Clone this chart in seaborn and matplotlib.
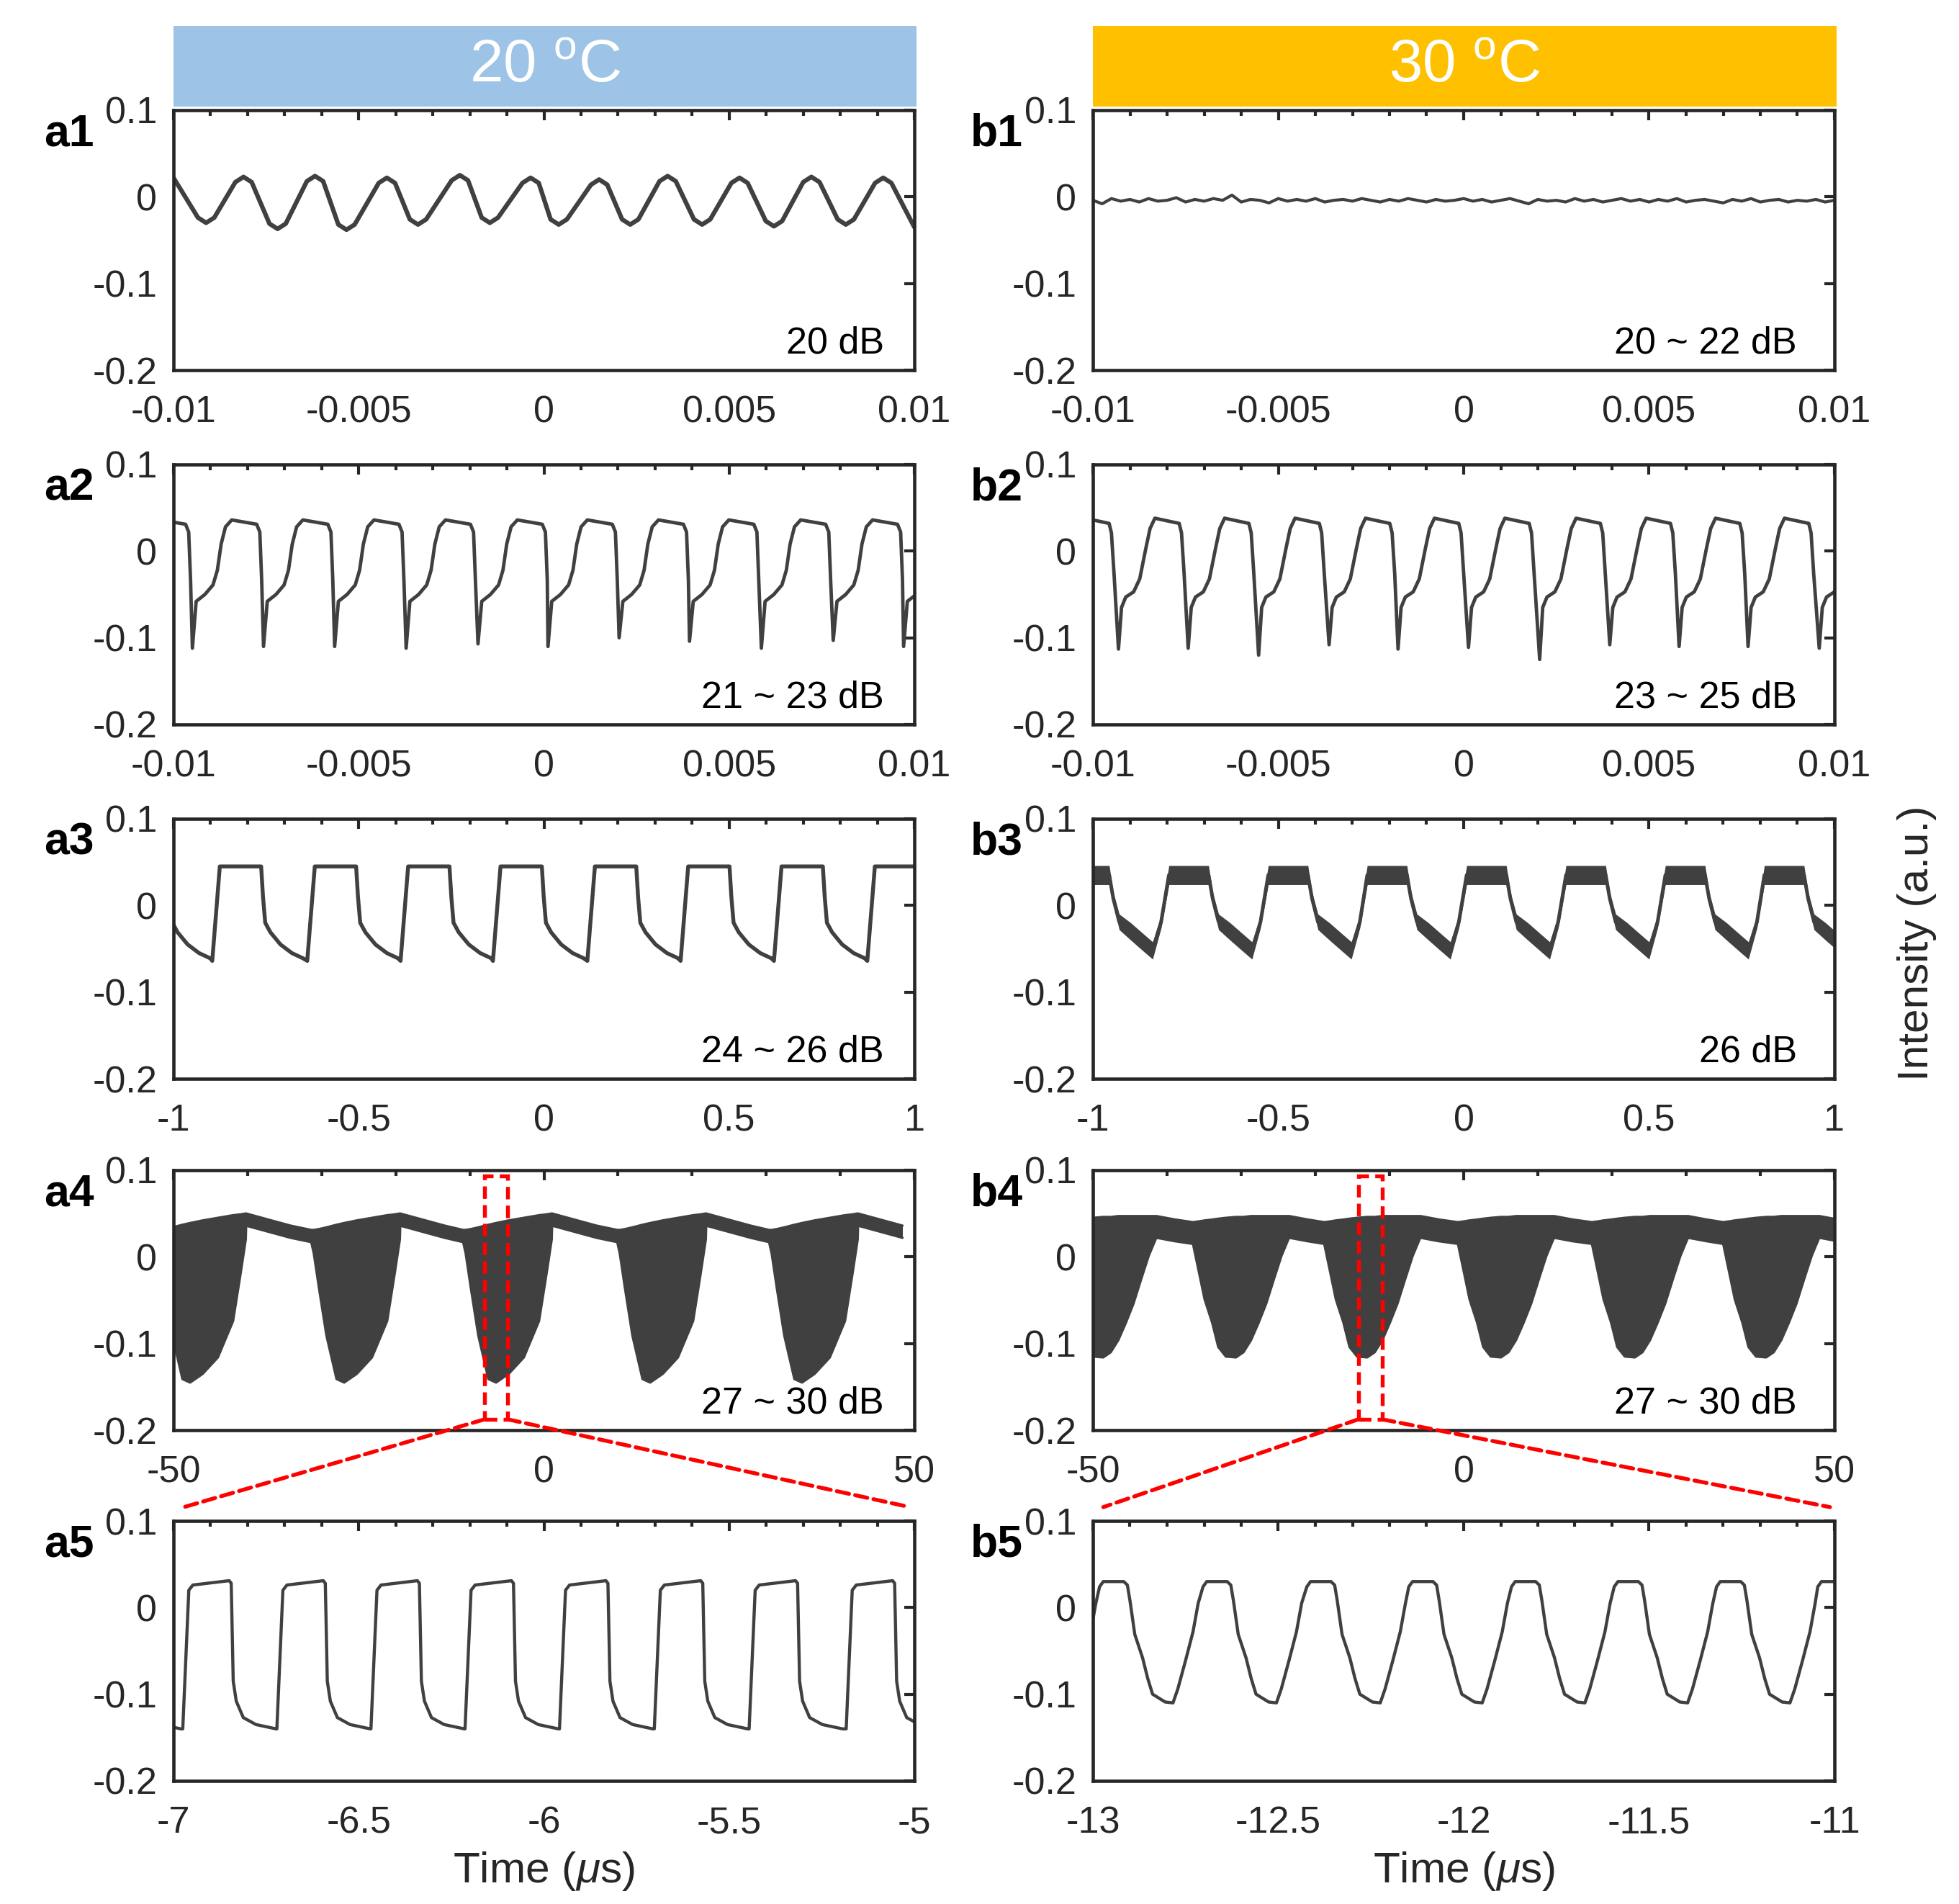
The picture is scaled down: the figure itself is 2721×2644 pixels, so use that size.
import numpy as np
import pandas as pd
import matplotlib
matplotlib.use("Agg")
import matplotlib.pyplot as plt
import seaborn as sns
from matplotlib.patches import Rectangle, ConnectionPatch
from matplotlib.ticker import MultipleLocator

# ------------------------------------------------------------------ data
# a1 (20 C, 20 dB): peaks / troughs, plus rounded shoulders
a1_peak_t = [-0.00811, -0.00618, -0.00424, -0.00227, -0.00036, 0.00149, 0.00334, 0.00528, 0.00722, 0.00916]
a1_peak_v = [0.023, 0.024, 0.022, 0.025, 0.022, 0.020, 0.024, 0.022, 0.023, 0.022]
a1_trough_t = [-0.00912, -0.00719, -0.00533, -0.00340, -0.00146, 0.00040, 0.00233, 0.00427, 0.00621, 0.00815]
a1_trough_v = [-0.030, -0.037, -0.038, -0.032, -0.030, -0.032, -0.032, -0.032, -0.034, -0.032]
a1_round_dt = [-0.00022, 0.0, 0.00022]
a1_round_dv = [-0.006, 0.0, -0.006]
a1_ends_t = [-0.0100, 0.0100]
a1_ends_v = [0.022, -0.035]

# b1 (30 C, 20~22 dB): nearly flat noisy trace
b1_t = list(np.round(np.arange(-0.0100, 0.01001, 0.00025), 5))
b1_v = [-0.004, -0.008, -0.002, -0.005, -0.003, -0.006, -0.002, -0.005, -0.004, -0.001,
        -0.006, -0.003, -0.005, -0.002, -0.004, 0.002, -0.006, -0.003, -0.004, -0.007,
        -0.002, -0.005, -0.003, -0.005, -0.002, -0.006, -0.004, -0.003, -0.005, -0.002,
        -0.004, -0.006, -0.003, -0.005, -0.002, -0.004, -0.006, -0.003, -0.005, -0.004,
        -0.002, -0.005, -0.003, -0.006, -0.004, -0.002, -0.005, -0.008, -0.003, -0.005,
        -0.004, -0.006, -0.002, -0.005, -0.003, -0.006, -0.004, -0.002, -0.005, -0.003,
        -0.006, -0.003, -0.005, -0.002, -0.006, -0.004, -0.003, -0.005, -0.007, -0.003,
        -0.005, -0.002, -0.006, -0.004, -0.003, -0.006, -0.004, -0.005, -0.003, -0.006, -0.004]

# a2 (21~23 dB): spike times, spike depths and one-cycle shape after a spike
a2_spike_t = [-0.01141, -0.00949, -0.00757, -0.00565, -0.00372, -0.00178, 0.00011, 0.00203, 0.00393, 0.00587, 0.00781, 0.00971]
a2_spike_v = [-0.110, -0.112, -0.110, -0.110, -0.112, -0.107, -0.110, -0.100, -0.104, -0.112, -0.103, -0.110]
a2_shape_dt = [0.000101, 0.000337, 0.000556, 0.000674, 0.000775, 0.000893, 0.001062, 0.001736, 0.001820, 0.001870]
a2_shape_v = [-0.058, -0.050, -0.039, -0.022, 0.008, 0.028, 0.036, 0.031, 0.022, -0.033]

# b2 (23~25 dB)
b2_spike_t = [-0.01120, -0.00931, -0.00743, -0.00553, -0.00363, -0.00177, 0.00013, 0.00205, 0.00394, 0.00581, 0.00767, 0.00959]
b2_spike_v = [-0.112, -0.113, -0.112, -0.120, -0.108, -0.113, -0.111, -0.125, -0.108, -0.110, -0.110, -0.112]
b2_shape_dt = [0.000082, 0.000196, 0.000409, 0.000573, 0.000737, 0.000851, 0.000982, 0.001637, 0.001700, 0.001770]
b2_shape_v = [-0.065, -0.053, -0.047, -0.032, 0.003, 0.026, 0.038, 0.032, 0.021, -0.026]

# a3 (24~26 dB): rising-edge times and one-cycle shape
a3_rise_t = [-1.146, -0.8954, -0.639, -0.387, -0.1376, 0.1172, 0.369, 0.621, 0.873]
a3_shape_dt = [0.0, 0.0204, 0.132, 0.137, 0.143, 0.157, 0.184, 0.215, 0.245]
a3_shape_v = [-0.064, 0.045, 0.045, 0.010, -0.020, -0.031, -0.045, -0.055, -0.061]

# b3 (26 dB): plateau-start times, one-cycle shape and band half-width
b3_start_t = [-1.063, -0.795, -0.527, -0.260, 0.008, 0.276, 0.544, 0.811]
b3_shape_dt = [0.0, 0.107, 0.118, 0.134, 0.165, 0.197, 0.224, 0.247]
b3_shape_v = [0.035, 0.035, 0.008, -0.019, -0.030, -0.042, -0.052, -0.019]
b3_half_w = [0.011, 0.011, 0.007, 0.009, 0.010, 0.010, 0.010, 0.007]

# a4 (27~30 dB): dip-start times and envelope of one dip + band
a4_dip_t = [-52.2, -31.4, -10.9, 9.9, 30.4]
a4_env_dt = [0.0, 0.34, 1.02, 2.05, 3.41, 4.44, 6.14, 8.19, 10.24, 11.26, 11.95, 12.0, 15.0, 18.0]
a4_env_low = [0.017, 0.004, -0.035, -0.091, -0.141, -0.145, -0.135, -0.116, -0.074, -0.019, 0.020, 0.036, 0.029, 0.022]
a4_env_up = [0.031, 0.031, 0.032, 0.034, 0.037, 0.039, 0.042, 0.045, 0.048, 0.049, 0.050, 0.050, 0.043, 0.036]

# b4 (27~30 dB)
b4_dip_t = [-54.4, -36.5, -18.8, -0.77, 17.3, 35.0]
b4_env_dt = [0.0, 0.885, 1.566, 2.59, 3.41, 4.43, 5.79, 6.81, 7.83, 8.85, 9.87, 10.90, 11.92, 12.94, 13.0, 15.5]
b4_env_low = [0.015, -0.021, -0.049, -0.076, -0.104, -0.115, -0.116, -0.110, -0.096, -0.076, -0.054, -0.026, 0.001, 0.022, 0.022, 0.018]
b4_env_up = [0.040, 0.041, 0.042, 0.043, 0.044, 0.045, 0.046, 0.046, 0.047, 0.047, 0.047, 0.047, 0.047, 0.047, 0.047, 0.043]

# a5 (zoom of a4): rising-edge times and one-cycle shape
a5_rise_t = [-7.232, -6.975, -6.721, -6.467, -6.213, -5.958, -5.702, -5.446, -5.184]
a5_shape_dt = [0.0, 0.0163, 0.0272, 0.1253, 0.1308, 0.1362, 0.1444, 0.1634, 0.1975, 0.2520]
a5_shape_v = [-0.140, 0.020, 0.026, 0.031, 0.028, -0.085, -0.108, -0.127, -0.135, -0.140]

# b5 (zoom of b4): plateau-start times and one-cycle shape
b5_start_t = [-13.258, -12.982, -12.703, -12.423, -12.148, -11.871, -11.594, -11.318, -11.045]
b5_shape_dt = [0.0, 0.010, 0.065, 0.075, 0.082, 0.095, 0.116, 0.130, 0.143, 0.177, 0.198, 0.211, 0.232, 0.252, 0.266]
b5_shape_v = [0.024, 0.030, 0.030, 0.026, 0.008, -0.031, -0.058, -0.082, -0.100, -0.109, -0.110, -0.094, -0.061, -0.028, 0.005]

# zoom boxes (in a4 / b4 data units)
a4_box_x = [-8.0, -4.9]
b4_box_x = [-14.2, -11.0]
box_y = [-0.1875, 0.093]

# text
headers = ["20 $^{\\mathrm{o}}$C", "30 $^{\\mathrm{o}}$C"]
header_colors = ["#9DC3E6", "#FFC000"]
panel_names = [["a1", "a2", "a3", "a4", "a5"], ["b1", "b2", "b3", "b4", "b5"]]
db_labels = [["20 dB", "21 ~ 23 dB", "24 ~ 26 dB", "27 ~ 30 dB", None],
             ["20 ~ 22 dB", "23 ~ 25 dB", "26 dB", "27 ~ 30 dB", None]]
y_ticks = [-0.2, -0.1, 0.0, 0.1]
y_tick_labels = ["-0.2", "-0.1", "0", "0.1"]
xt_small = [-0.01, -0.005, 0.0, 0.005, 0.01]
xt_small_lab = ["-0.01", "-0.005", "0", "0.005", "0.01"]
xt_one = [-1, -0.5, 0, 0.5, 1]
xt_one_lab = ["-1", "-0.5", "0", "0.5", "1"]
xt_fifty = [-50, 0, 50]
xt_fifty_lab = ["-50", "0", "50"]
xt_a5 = [-7, -6.5, -6, -5.5, -5]
xt_a5_lab = ["-7", "-6.5", "-6", "-5.5", "-5"]
xt_b5 = [-13, -12.5, -12, -11.5, -11]
xt_b5_lab = ["-13", "-12.5", "-12", "-11.5", "-11"]


# ------------------------------------------------------------------ helpers
def place(starts, dts, vals, first=None):
    t, v = [], []
    for i, s in enumerate(starts):
        if first is not None:
            t.append(s)
            v.append(first[i])
        for d, y in zip(dts, vals):
            t.append(s + d)
            v.append(y)
    return np.array(t), np.array(v)


def place_multi(starts, dts, *cols):
    t = []
    out = [[] for _ in cols]
    for s in starts:
        for j, d in enumerate(dts):
            t.append(s + d)
            for k, c in enumerate(cols):
                out[k].append(c[j])
    return (np.array(t),) + tuple(np.array(o) for o in out)


def extrema(times, levels, dts, dvs, sign):
    t, v = [], []
    for s, lv in zip(times, levels):
        for d, dv in zip(dts, dvs):
            t.append(s + d)
            v.append(lv + sign * dv)
    return t, v


# ------------------------------------------------------------------ style
sns.set_theme(style="white")
plt.rcParams["font.family"] = ["Liberation Sans", "DejaVu Sans"]
plt.rcParams["axes.unicode_minus"] = False
plt.rcParams["mathtext.fontset"] = "custom"
plt.rcParams["mathtext.rm"] = "Liberation Sans"
plt.rcParams["mathtext.it"] = "Liberation Sans:italic"
plt.rcParams["mathtext.default"] = "regular"

LINE = "#404040"
AX = "#262626"
W, H = 2721, 2644
fig = plt.figure(figsize=(W / 300, H / 300), dpi=300)
fig.patch.set_facecolor("white")

col_x = [241, 1518]
col_w = [1029, 1030]
row_top = [153, 645, 1137, 1625, 2112]
row_h = 361

axes = [[None] * 5 for _ in range(2)]
for c in range(2):
    for r in range(5):
        ax = fig.add_axes([col_x[c] / W, 1 - (row_top[r] + row_h) / H, col_w[c] / W, row_h / H])
        axes[c][r] = ax


def style(ax, xlim, xt, xl, minor):
    ax.set_xlim(*xlim)
    ax.set_ylim(-0.2, 0.1)
    ax.set_xticks(xt)
    ax.set_xticklabels(xl)
    ax.xaxis.set_minor_locator(MultipleLocator(minor))
    ax.set_yticks(y_ticks)
    ax.set_yticklabels(y_tick_labels)
    ax.tick_params(which="both", direction="in", top=True, right=True, color=AX, width=1.0)
    ax.tick_params(which="major", length=3.3, labelsize=12.5, labelcolor=AX)
    ax.tick_params(which="minor", length=2.0)
    ax.tick_params(axis="x", which="major", pad=8.2)
    ax.tick_params(axis="y", which="major", pad=5.5)
    for sp in ax.spines.values():
        sp.set_linewidth(1.1)
        sp.set_color(AX)
    ax.set_xlabel("")
    ax.set_ylabel("")
    ax.set_facecolor("white")


def trace(ax, t, v, lw=0.9):
    sns.lineplot(x=t, y=v, ax=ax, color=LINE, linewidth=lw, estimator=None,
                 sort=False, legend=False)


# a1
pt, pv = extrema(a1_peak_t, a1_peak_v, a1_round_dt, a1_round_dv, 1)
tt, tv = extrema(a1_trough_t, a1_trough_v, a1_round_dt, a1_round_dv, -1)
t1 = np.array(pt + tt + a1_ends_t)
v1 = np.array(pv + tv + a1_ends_v)
o = np.argsort(t1)
trace(axes[0][0], t1[o], v1[o], lw=1.5)
style(axes[0][0], (-0.01, 0.01), xt_small, xt_small_lab, 0.001)

# b1
trace(axes[1][0], np.array(b1_t), np.array(b1_v), lw=1.0)
style(axes[1][0], (-0.01, 0.01), xt_small, xt_small_lab, 0.001)

# a2 / b2
t, v = place(a2_spike_t, a2_shape_dt, a2_shape_v, first=a2_spike_v)
trace(axes[0][1], t, v, lw=1.15)
style(axes[0][1], (-0.01, 0.01), xt_small, xt_small_lab, 0.001)
t, v = place(b2_spike_t, b2_shape_dt, b2_shape_v, first=b2_spike_v)
trace(axes[1][1], t, v, lw=1.15)
style(axes[1][1], (-0.01, 0.01), xt_small, xt_small_lab, 0.001)

# a3
t, v = place(a3_rise_t, a3_shape_dt, a3_shape_v)
trace(axes[0][2], t, v, lw=1.3)
style(axes[0][2], (-1, 1), xt_one, xt_one_lab, 0.1)

# b3 (thick noisy band)
t, v, hw = place_multi(b3_start_t, b3_shape_dt, b3_shape_v, b3_half_w)
axes[1][2].fill_between(t, v - hw, v + hw, color=LINE, linewidth=0)
trace(axes[1][2], t, v, lw=1.2)
style(axes[1][2], (-1, 1), xt_one, xt_one_lab, 0.1)

# a4 / b4 (envelopes of fast oscillation)
for c, (dips, dts, lo, up, box) in enumerate([
        (a4_dip_t, a4_env_dt, a4_env_low, a4_env_up, a4_box_x),
        (b4_dip_t, b4_env_dt, b4_env_low, b4_env_up, b4_box_x)]):
    ax = axes[c][3]
    t, l, u = place_multi(dips, dts, lo, up)
    ax.fill_between(t, l, u, color=LINE, linewidth=0)
    trace(ax, t, u, lw=0.8)
    trace(ax, t, l, lw=0.8)
    style(ax, (-50, 50), xt_fifty, xt_fifty_lab, 10)
    rect = Rectangle((box[0], box_y[0]), box[1] - box[0], box_y[1] - box_y[0],
                     transform=ax.transData, fill=False, edgecolor="#FF0000",
                     linewidth=1.3, linestyle=(0, (3.2, 1.6)), zorder=6, clip_on=False)
    ax.add_patch(rect)
    for xa, xb in [(box[0], 0.014), (box[1], 0.994)]:
        con = ConnectionPatch(xyA=(xa, box_y[0]), coordsA=ax.transData,
                              xyB=(xb, 1.053), coordsB=axes[c][4].transAxes,
                              color="#FF0000", linewidth=1.3, linestyle=(0, (3.2, 1.6)))
        fig.add_artist(con)

# a5 / b5
t, v = place(a5_rise_t, a5_shape_dt, a5_shape_v)
trace(axes[0][4], t, v, lw=1.05)
style(axes[0][4], (-7, -5), xt_a5, xt_a5_lab, 0.1)
t, v = place(b5_start_t, b5_shape_dt, b5_shape_v)
trace(axes[1][4], t, v, lw=1.05)
style(axes[1][4], (-13, -11), xt_b5, xt_b5_lab, 0.1)

# labels
db_x = [0.959, 0.9495]
lab_x = [61 / W, 1348 / W]
for c in range(2):
    for r in range(5):
        ax = axes[c][r]
        if db_labels[c][r]:
            ax.text(db_x[c], 0.065, db_labels[c][r], transform=ax.transAxes,
                    ha="right", va="baseline", fontsize=12.5, color="black")
        fig.text(lab_x[c], 1 - (row_top[r] + 33) / H, panel_names[c][r],
                 ha="left", va="center", fontsize=15, fontweight="bold", color="black")
    # header bar
    hax = fig.add_axes([col_x[c] / W, 1 - 148 / H, (col_w[c] + 3) / W, 112 / H])
    hax.set_facecolor(header_colors[c])
    hax.set_xticks([])
    hax.set_yticks([])
    for sp in hax.spines.values():
        sp.set_visible(False)
    hax.text(0.5, 0.5, headers[c], ha="center", va="center", fontsize=20,
             color="white", transform=hax.transAxes)
    fig.text((col_x[c] + col_w[c] / 2) / W, 1 - 2598 / H, "Time ($\\mathit{\\mu}$s)",
             ha="center", va="center", fontsize=14.5, color=AX)

fig.text(2663 / W, 1 - 1310 / H, "Intensity (a.u.)", rotation=90,
         ha="center", va="center", fontsize=14.5, color=AX)

fig.savefig("out.png", dpi=300)
